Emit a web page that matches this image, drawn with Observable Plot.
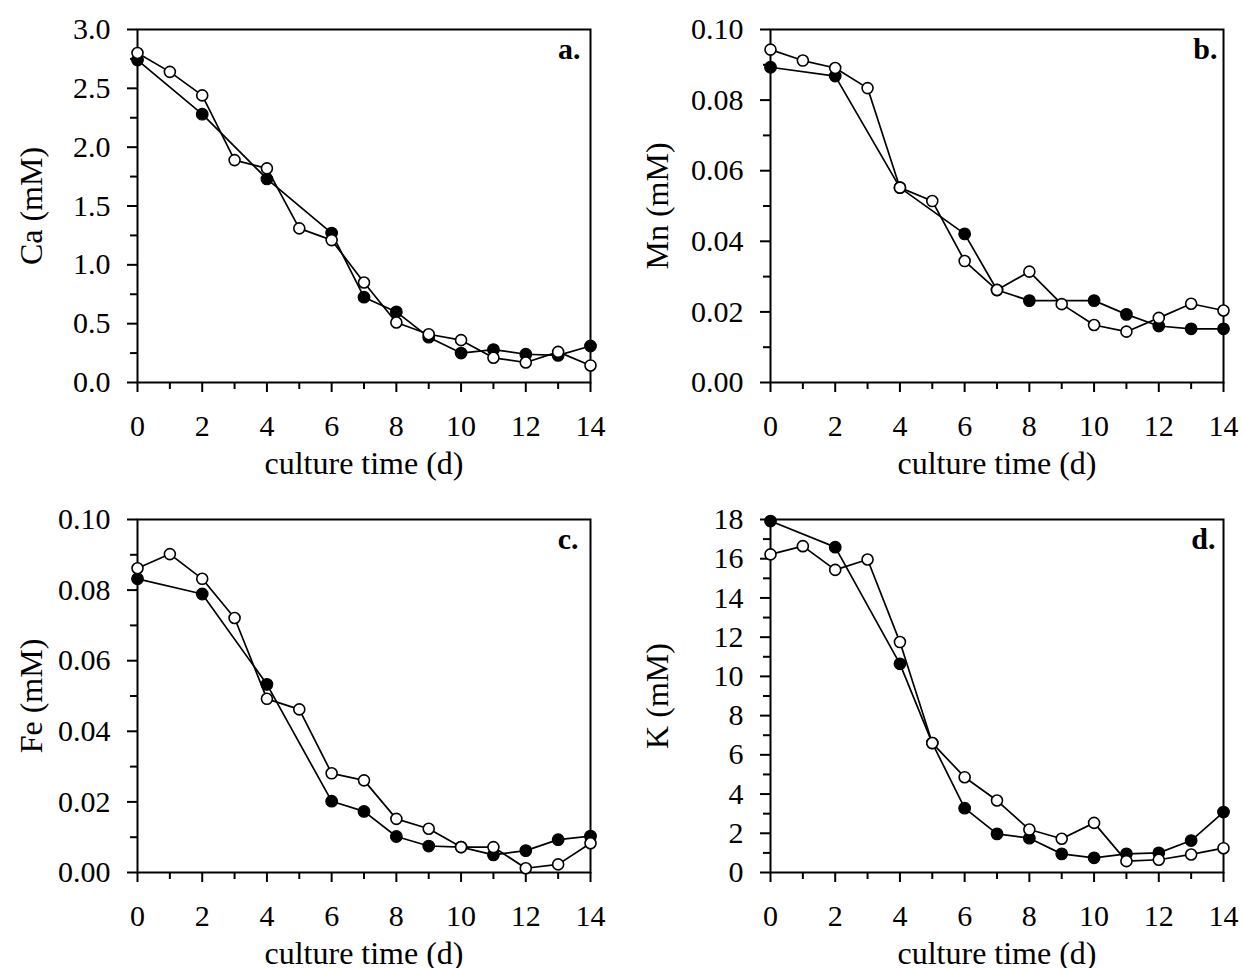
<!DOCTYPE html>
<html><head><meta charset="utf-8">
<script src="https://cdn.jsdelivr.net/npm/d3@7"></script>
<script src="https://cdn.jsdelivr.net/npm/@observablehq/plot@0.6"></script>
<style>
body{margin:0;background:#fff;}
#grid{position:relative;width:1243px;height:968px;background:#fff;}
#grid > div{position:absolute;}
</style></head><body><div id="grid"></div>
<script>
const days = [0,1,2,3,4,5,6,7,8,9,10,11,12,13,14];
const xMajor = [0,2,4,6,8,10,12,14];
const xMinor = [1,3,5,7,9,11,13];
const xTitle = "culture time (d)";

// Panel a: Ca
const caFilled = [2.74, null, 2.28, null, 1.73, null, 1.27, 0.725, 0.60, 0.385, 0.25, 0.28, 0.24, 0.23, 0.31];
const caOpen   = [2.80, 2.64, 2.44, 1.89, 1.82, 1.31, 1.21, 0.85, 0.51, 0.41, 0.36, 0.21, 0.17, 0.26, 0.145];
const caMajor = [0, 0.5, 1.0, 1.5, 2.0, 2.5, 3.0];
const caMinor = [0.25, 0.75, 1.25, 1.75, 2.25, 2.75];

// Panel b: Mn
const mnFilled = [0.0893, null, 0.0868, null, 0.0552, null, 0.0421, 0.0262, 0.0232, null, 0.0232, 0.0193, 0.0160, 0.0152, 0.0152];
const mnOpen   = [0.0943, 0.0912, 0.0891, 0.0834, 0.0552, 0.0514, 0.0344, 0.0262, 0.0314, 0.0222, 0.0163, 0.0144, 0.0183, 0.0223, 0.0204];
const mnMajor = [0, 0.02, 0.04, 0.06, 0.08, 0.10];
const mnMinor = [0.01, 0.03, 0.05, 0.07, 0.09];

// Panel c: Fe
const feFilled = [0.0832, null, 0.0789, null, 0.0533, null, 0.0202, 0.0173, 0.0102, 0.0075, 0.0072, 0.0050, 0.0062, 0.0093, 0.0103];
const feOpen   = [0.0862, 0.0902, 0.0832, 0.0721, 0.0492, 0.0462, 0.0281, 0.0261, 0.0152, 0.0124, 0.0072, 0.0072, 0.0012, 0.0023, 0.0083];
const feMajor = [0, 0.02, 0.04, 0.06, 0.08, 0.10];
const feMinor = [0.01, 0.03, 0.05, 0.07, 0.09];

// Panel d: K
const kFilled = [17.92, null, 16.59, null, 10.64, 6.6, 3.28, 1.97, 1.75, 0.95, 0.75, 0.95, 1.0, 1.63, 3.08];
const kOpen   = [16.22, 16.64, 15.43, 15.96, 11.75, 6.60, 4.86, 3.67, 2.19, 1.72, 2.53, 0.58, 0.65, 0.92, 1.24];
const kMajor = [0, 2, 4, 6, 8, 10, 12, 14, 16, 18];
const kMinor = [1, 3, 5, 7, 9, 11, 13, 15, 17];

const FONT = "'Liberation Serif', 'Times New Roman', Times, serif";

function rows(vals) {
  return days.map((d, i) => ({day: d, v: vals[i]})).filter(r => r.v != null);
}

function panel(cfg) {
  const filled = rows(cfg.filled);
  const open = rows(cfg.open);
  const fmt = d3.format(cfg.fmt);
  return Plot.plot({
    width: cfg.width, height: cfg.height,
    marginLeft: cfg.ml, marginRight: cfg.mr, marginTop: cfg.mt, marginBottom: cfg.mb,
    style: {fontFamily: FONT, fontSize: "30px", color: "black", background: "white", overflow: "visible"},
    x: {domain: [0, 14], label: null},
    y: {domain: cfg.domain, label: null},
    marks: [
      Plot.axisX({ticks: xMajor, tickSize: 10, tickPadding: 22, tickFormat: d => String(d), strokeWidth: 2, fontSize: 30, label: null}),
      Plot.axisX({ticks: xMinor, tickSize: 7, tickFormat: () => "", strokeWidth: 2, label: null}),
      Plot.axisY({ticks: cfg.major, tickSize: 10, tickPadding: 17, tickFormat: fmt, strokeWidth: 2, fontSize: 30, label: null}),
      Plot.axisY({ticks: cfg.minor, tickSize: 7, tickFormat: () => "", strokeWidth: 2, label: null}),
      Plot.frame({stroke: "black", strokeWidth: 2}),
      Plot.line(filled, {x: "day", y: "v", stroke: "black", strokeWidth: 1.7}),
      Plot.line(open, {x: "day", y: "v", stroke: "black", strokeWidth: 1.7}),
      Plot.dot(filled, {x: "day", y: "v", r: 5.8, fill: "black", stroke: "black", strokeWidth: 1.2}),
      Plot.dot(open, {x: "day", y: "v", r: 5.5, fill: "white", stroke: "black", strokeWidth: 1.6}),
      Plot.text([xTitle], {text: d => d, frameAnchor: "bottom", textAnchor: "middle", lineAnchor: "bottom", dy: 91, fontSize: 32}),
      Plot.text([cfg.yTitle], {text: d => d, frameAnchor: "left", textAnchor: "middle", lineAnchor: "middle", rotate: -90, dx: cfg.ydx, fontSize: 32}),
      Plot.text([cfg.letter], {text: d => d, frameAnchor: "top-right", textAnchor: "end", lineAnchor: "top", dx: cfg.ldx, dy: 8, fontSize: 30, fontWeight: "bold"})
    ]
  });
}

const col1 = {width: 621, ml: 137, mr: 31, ydx: -106};
const col2 = {width: 622, ml: 149, mr: 20, ydx: -113};
const row1 = {height: 484, mt: 29, mb: 102};
const row2 = {height: 478, mt: 29, mb: 96};

const panels = [
  {left: 0, top: 0, ...col1, ...row1, filled: caFilled, open: caOpen, domain: [0, 3], major: caMajor, minor: caMinor, fmt: ".1f", yTitle: "Ca (mM)", letter: "a.", ldx: -10},
  {left: 621, top: 0, ...col2, ...row1, filled: mnFilled, open: mnOpen, domain: [0, 0.1], major: mnMajor, minor: mnMinor, fmt: ".2f", yTitle: "Mn (mM)", letter: "b.", ldx: -6},
  {left: 0, top: 490, ...col1, ...row2, filled: feFilled, open: feOpen, domain: [0, 0.1], major: feMajor, minor: feMinor, fmt: ".2f", yTitle: "Fe (mM)", letter: "c.", ldx: -12},
  {left: 621, top: 490, ...col2, ...row2, filled: kFilled, open: kOpen, domain: [0, 18], major: kMajor, minor: kMinor, fmt: "d", yTitle: "K (mM)", letter: "d.", ldx: -8}
];

const grid = document.getElementById("grid");
for (const p of panels) {
  const div = document.createElement("div");
  div.style.left = p.left + "px";
  div.style.top = p.top + "px";
  div.appendChild(panel(p));
  grid.appendChild(div);
}
</script>
</body></html>
